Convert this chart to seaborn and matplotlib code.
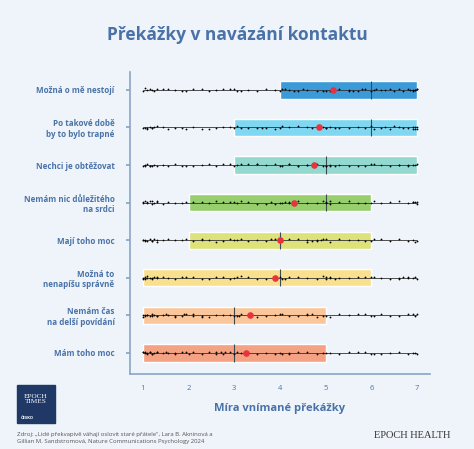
import matplotlib.pyplot as plt
import seaborn as sns
import pandas as pd

sns.set_theme(style="white")
plt.rcParams['font.family'] = ['Open Sans', 'DejaVu Sans']

BG = '#eef4fa'
TXT = '#4a72a8'

labels = ['Možná o mě nestojí', 'Po takové době\nby to bylo trapné', 'Nechci je obtěžovat',
          'Nemám nic důležitého\nna srdci', 'Mají toho moc', 'Možná to\nnenapíšu správně',
          'Nemám čas\nna delší povídání', 'Mám toho moc']
q1 = [4, 3, 3, 2, 2, 1, 1, 1]
q3 = [7, 7, 7, 6, 6, 6, 5, 5]
medians = [6, 6, 5, 5, 4, 4, 3, 3]
means = [5.15, 4.85, 4.75, 4.3, 4.0, 3.9, 3.35, 3.25]
colors = ['#3b9ad8', '#7fd7f2', '#93d9d0', '#97cf6f', '#dde27a', '#f8e08e', '#fbc69a', '#f5a184']

# estimated individual responses (slider positions) per row
base = [1.0, 1.05, 1.1, 1.15, 1.2, 1.25, 1.3, 1.45, 1.55, 1.7, 1.85, 1.95, 2.1, 2.3, 2.45, 2.6,
        2.75, 2.9, 3.0, 3.05, 3.15, 3.3, 3.5, 3.7, 3.9, 4.0, 4.05, 4.2, 4.4, 4.6, 4.8, 4.95, 5.0,
        5.1, 5.3, 5.5, 5.7, 5.85, 6.0, 6.05, 6.2, 6.4, 6.6, 6.8, 6.9, 6.95, 7.0]
extra = {
    0: [5.5, 5.6, 5.8, 6.1, 6.3, 6.5, 6.7, 6.85, 6.9, 6.95, 7.0, 4.1, 4.3, 4.5],
    1: [6.3, 6.5, 6.7, 6.9, 6.95, 7.0, 5.0, 5.2, 4.7, 3.6, 1.1, 1.2],
    2: [5.0, 5.1, 5.2, 4.2, 4.4, 4.6, 3.5, 6.6, 6.8, 1.05, 1.15],
    3: [1.0, 1.1, 1.2, 1.3, 4.1, 4.2, 5.0, 5.1, 3.8, 6.9, 7.0],
    4: [1.0, 1.05, 1.2, 1.3, 4.6, 4.7, 4.8, 4.9, 3.8, 2.3],
    5: [1.0, 1.05, 1.1, 1.2, 1.3, 4.1, 5.0, 5.1, 5.2, 6.6, 6.7, 6.8],
    6: [1.0, 1.05, 1.1, 1.2, 1.3, 1.5, 1.7, 1.9, 2.1, 2.3, 3.1, 4.6, 4.7],
    7: [1.0, 1.05, 1.1, 1.15, 1.2, 1.3, 1.5, 1.7, 2.0, 2.6, 2.7, 2.8, 3.3, 4.2],
}

rows = []
for i, lab in enumerate(labels):
    for v in base + extra[i]:
        rows.append({'label': lab, 'value': v})
df = pd.DataFrame(rows)

fig = plt.figure(figsize=(4.74, 4.49), dpi=100, facecolor=BG)
ax = fig.add_axes([0.274, 0.167, 0.633, 0.673], facecolor=BG)

ypos = list(range(len(labels)))
ax.barh(ypos, [b - a for a, b in zip(q1, q3)], left=q1, height=0.46, color=colors, zorder=1)
ax.hlines(ypos, 1, 7, color='#333333', lw=0.6, zorder=2)
ax.vlines(medians, [y - 0.23 for y in ypos], [y + 0.23 for y in ypos], color='#3a4a50', lw=0.8, zorder=3)
sns.stripplot(data=df, x='value', y='label', order=labels, color='black', size=1.3,
              jitter=0.04, ax=ax, zorder=4)
ax.scatter(means, ypos, color='#e8333f', s=14, zorder=5)

ax.set_xlim(0.715, 7.28)
ax.set_ylim(7.56, -0.48)
ax.set_xticks(range(1, 8))
ax.set_yticks(ypos)
ax.set_yticklabels(labels, ha='right', multialignment='right')
ax.tick_params(axis='y', length=3, color='#8aa5c5', labelsize=5.8, labelcolor=TXT, pad=8, left=True)
ax.tick_params(axis='x', length=0, labelsize=5.5, labelcolor=TXT, pad=8)
for t in ax.get_yticklabels():
    t.set_fontweight('bold')
for s in ['top', 'right']:
    ax.spines[s].set_visible(False)
for s in ['left', 'bottom']:
    ax.spines[s].set_color('#8aa5c5')
    ax.spines[s].set_linewidth(1.2)
ax.set_ylabel('')
ax.set_xlabel('Míra vnímané překážky', fontsize=8, fontweight='bold', color=TXT, labelpad=8)

fig.text(0.5, 0.912, 'Překážky v navázání kontaktu', ha='center', fontsize=12.5,
         fontweight='bold', color=TXT)

# logo
fig.patches.append(plt.Rectangle((0.036, 0.058), 0.08, 0.085, transform=fig.transFigure,
                                 color='#1f3865', zorder=0))
fig.text(0.076, 0.112, 'EPOCH\nTIMES', ha='center', va='center', fontsize=5.2,
         family=['Liberation Serif'], color='white', linespacing=0.9)
fig.text(0.043, 0.067, 'ČESKO', fontsize=3, color='white', fontweight='bold')

fig.text(0.036, 0.012, 'Zdroj: „Lidé překvapivě váhají oslovit staré přátele", Lara B. Akninová a\n'
         'Gillian M. Sandstromová, Nature Communications Psychology 2024',
         fontsize=4.3, color='#555555', va='bottom', linespacing=1.5)
fig.text(0.95, 0.025, 'EPOCH HEALTH', ha='right', fontsize=7.5, family=['Liberation Serif'],
         color='#333333')

fig.savefig('out.png', dpi=100, facecolor=BG)
